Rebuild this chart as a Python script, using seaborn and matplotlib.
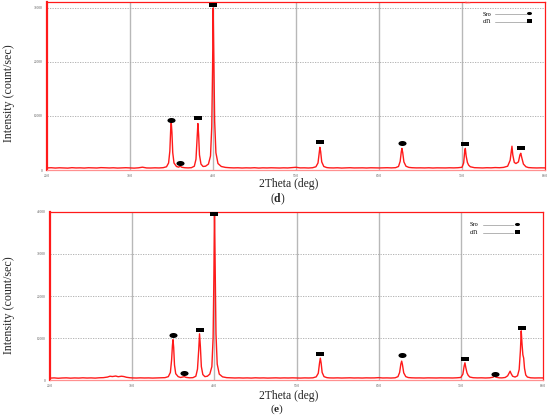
import matplotlib
matplotlib.use("Agg")
import matplotlib.pyplot as plt
from matplotlib.markers import MarkerStyle
from matplotlib.transforms import Affine2D
import seaborn as sns
import pandas as pd

# ---------------- data ----------------
tt_d = [20.0, 20.5, 21.0, 21.5, 22.0, 22.5, 23.0, 23.5, 24.0, 24.5, 25.0, 25.5, 26.0, 26.5,
        27.0, 27.5, 28.0, 28.5, 29.0, 29.5, 30.0, 30.5, 31.0, 31.5, 32.0, 32.5, 33.0, 33.5,
        34.0, 34.4, 34.65, 34.8, 34.9, 34.97, 35.05, 35.15, 35.3, 35.6, 35.85, 36.05, 36.25,
        36.6, 37.0, 37.4, 37.75, 37.95, 38.08, 38.18, 38.27, 38.37, 38.55, 38.8, 39.1, 39.45,
        39.7, 39.85, 39.95, 40.02, 40.1, 40.2, 40.35, 40.6, 41.0, 41.5, 42.0, 42.5, 43.0, 43.5,
        44.0, 44.5, 45.0, 45.5, 46.0, 46.5, 47.0, 47.5, 48.0, 48.5, 49.0, 49.5, 50.0, 50.5,
        51.0, 51.5, 52.0, 52.4, 52.65, 52.8, 52.88, 52.97, 53.1, 53.35, 53.7, 54.0, 54.5,
        55.0, 55.5, 56.0, 56.5, 57.0, 57.5, 58.0, 58.5, 59.0, 59.5, 60.0, 60.5, 61.0, 61.5,
        62.0, 62.35, 62.55, 62.68, 62.76, 62.86, 63.0, 63.25, 63.6, 64.0, 64.5, 65.0, 65.5,
        66.0, 66.5, 67.0, 67.5, 68.0, 68.5, 69.0, 69.5, 70.0, 70.2, 70.33, 70.4, 70.5, 70.65,
        70.8, 71.0, 71.5, 72.0, 72.5, 73.0, 73.5, 74.0, 74.5, 75.0, 75.5, 75.8, 75.95, 76.02,
        76.12, 76.3, 76.5, 76.8, 76.98, 77.08, 77.2, 77.4, 77.7, 78.0, 78.5, 79.0, 79.5, 80.0]
int_d = [380, 420, 360, 410, 390, 350, 430, 380, 400, 360, 420, 390, 370, 440,
         400, 380, 410, 360, 390, 420, 380, 350, 400, 520, 380, 370, 400, 380,
         430, 600, 1300, 3500, 7400, 8800, 7000, 3200, 1300, 650, 520, 700, 500,
         420, 390, 430, 700, 2000, 5800, 8600, 6500, 2800, 1100, 650, 700, 1100,
         2600, 8000, 19000, 30000, 21000, 9000, 3200, 1200, 650, 480, 420, 390, 410, 370,
         400, 380, 420, 360, 400, 380, 410, 390, 370, 400, 380, 430, 500, 390,
         400, 370, 420, 600, 1300, 3300, 4200, 3400, 1500, 650, 450, 400, 380,
         410, 360, 400, 420, 380, 390, 400, 370, 410, 390, 380, 400, 420, 390,
         430, 650, 1600, 3300, 4000, 3200, 1500, 700, 480, 420, 390, 400, 380,
         410, 370, 400, 390, 380, 410, 390, 420, 500, 1300, 3500, 4000, 2600, 1400,
         900, 600, 430, 400, 380, 420, 400, 450, 420, 480, 700, 1800, 3500, 4400,
         2800, 1400, 1200, 1500, 2800, 3100, 2300, 1100, 600, 450, 400, 380, 400, 390]

tt_e = [20.0, 20.5, 21.0, 21.5, 22.0, 22.5, 23.0, 23.5, 24.0, 24.5, 25.0, 25.5, 26.0, 26.5,
        27.0, 27.3, 27.6, 28.0, 28.3, 28.7, 29.0, 29.3, 29.7, 30.0, 30.5, 31.0, 31.5, 32.0,
        32.5, 33.0, 33.5, 34.0, 34.4, 34.65, 34.8, 34.9, 34.97, 35.05, 35.15, 35.3, 35.6,
        35.9, 36.2, 36.35, 36.55, 37.0, 37.4, 37.75, 37.95, 38.1, 38.2, 38.3, 38.42, 38.6,
        38.85, 39.15, 39.45, 39.7, 39.85, 39.95, 40.02, 40.1, 40.2, 40.35, 40.6, 41.0, 41.5,
        42.0, 42.5, 43.0, 43.5, 44.0, 44.5, 45.0, 45.5, 46.0, 46.5, 47.0, 47.5, 48.0, 48.5,
        49.0, 49.5, 50.0, 50.5, 51.0, 51.5, 52.0, 52.4, 52.65, 52.8, 52.9, 53.0, 53.12, 53.35,
        53.7, 54.0, 54.5, 55.0, 55.5, 56.0, 56.5, 57.0, 57.5, 58.0, 58.5, 59.0, 59.5, 60.0,
        60.5, 61.0, 61.5, 62.0, 62.35, 62.55, 62.7, 62.8, 62.9, 63.05, 63.3, 63.6, 64.0, 64.5,
        65.0, 65.5, 66.0, 66.5, 67.0, 67.5, 68.0, 68.5, 69.0, 69.5, 70.0, 70.25, 70.4, 70.5,
        70.6, 70.75, 70.9, 71.1, 71.5, 72.0, 72.5, 73.0, 73.5, 73.9, 74.1, 74.3, 74.7, 75.0,
        75.4, 75.7, 75.9, 76.0, 76.1, 76.3, 76.6, 76.9, 77.1, 77.25, 77.35, 77.45, 77.55,
        77.65, 77.75, 77.9, 78.1, 78.5, 79.0, 79.5, 80.0]
int_e = [450, 500, 420, 480, 510, 440, 490, 460, 520, 470, 500, 450, 530, 560,
         700, 900, 820, 950, 780, 900, 820, 650, 540, 500, 470, 510, 480, 500,
         460, 490, 520, 560, 800, 1800, 4800, 8200, 9600, 7800, 3600, 1500, 800,
         600, 750, 800, 620, 520, 560, 900, 2600, 7200, 11000, 8000, 3200, 1300,
         800, 900, 1400, 3200, 10000, 25000, 40000, 27000, 11000, 3800, 1400, 750, 560,
         520, 480, 510, 470, 500, 460, 520, 480, 500, 460, 490, 510, 470, 500,
         480, 510, 490, 460, 500, 480, 520, 750, 1600, 4000, 5200, 4000, 1800, 800,
         560, 500, 480, 510, 470, 500, 520, 480, 500, 470, 510, 490, 500, 560,
         480, 500, 470, 520, 800, 1800, 3800, 4500, 3600, 1700, 800, 580, 520, 490,
         500, 470, 510, 490, 480, 510, 490, 500, 480, 520, 600, 1400, 3300, 4100,
         3000, 1700, 1100, 700, 540, 500, 520, 480, 520, 650, 900, 650, 520, 500,
         600, 1000, 1700, 2100, 1600, 900, 700, 1000, 2500, 7000, 11700, 8500, 6000,
         5200, 2800, 1200, 700, 520, 480, 500, 490]

# phase markers (2theta, intensity)
sro_d_x = [34.95, 36.05, 62.75]
sro_d_y = [9260, 1300, 5000]
ti_d_x = [38.2, 40.05, 52.85, 70.35, 77.1]
ti_d_y = [9630, 30550, 5190, 4810, 4070]

sro_e_x = [34.96, 36.3, 62.85, 74.1]
sro_e_y = [10700, 1600, 5950, 1500]
ti_e_x = [38.3, 40.02, 52.9, 70.5, 77.4]
ti_e_y = [11900, 39500, 6100, 4900, 12500]

x_ticks = [20, 30, 40, 50, 60, 70, 80]
x_tick_labels = ["20.0", "30.0", "40.0", "50.0", "60.0", "70.0", "80.0"]
y_ticks_d = [0, 10000, 20000, 30000]
y_ticks_e = [0, 10000, 20000, 30000, 40000]
legend_labels = ["Sro", "\u03b1Ti"]

# ---------------- style ----------------
sns.set_style("white")
plt.rcParams["font.family"] = ["Liberation Serif", "DejaVu Serif"]
plt.rcParams["mathtext.fontset"] = "custom"
plt.rcParams["mathtext.rm"] = "Liberation Serif"
plt.rcParams["mathtext.bf"] = "Liberation Serif:bold"

W, H = 550, 418
fig = plt.figure(figsize=(W / 100, H / 100), dpi=100)

ELL = MarkerStyle("o", transform=Affine2D().scale(1.0, 0.62))
RECT = MarkerStyle("s", transform=Affine2D().scale(1.0, 0.68))


def make_axes(l, t, r, b):
    return fig.add_axes([l / W, 1 - b / H, (r - l) / W, (b - t) / H])


RED = "#ff1a1a"


def draw_panel(ax, tt, inten, yt, ymax, sx, sy, tx, ty, box):
    ax.set_xlim(20, 80)
    ax.set_ylim(0, ymax)
    for xv in [30, 40, 50, 60, 70]:
        ax.axvline(xv, color="#b8b8b8", lw=1.0, zorder=0)
    for yv in yt[1:]:
        ax.axhline(yv, color="#a8a8a8", lw=0.6, ls=(0, (1.5, 1.5)), zorder=0)
    df = pd.DataFrame({"tt": tt, "I": inten})
    sns.lineplot(data=df, x="tt", y="I", ax=ax, color=RED, lw=1.0,
                 estimator=None, sort=False, zorder=3)
    sns.scatterplot(x=sx, y=sy, ax=ax, marker=ELL, s=34, color="black",
                    edgecolor="black", linewidth=0, zorder=5)
    sns.scatterplot(x=tx, y=ty, ax=ax, marker=RECT, s=26, color="black",
                    edgecolor="black", linewidth=0, zorder=5)
    ax.set_xticks(x_ticks)
    ax.set_xticklabels(x_tick_labels)
    ax.set_yticks(yt)
    ax.set_yticklabels([str(v) for v in yt])
    ax.tick_params(axis="both", labelsize=2.5, labelcolor="#555555", length=1.5,
                   width=0.4, color="#888888", pad=1.5)
    ax.set_xlabel("")
    ax.set_ylabel("")
    for name, sp in ax.spines.items():
        sp.set_color(RED)
        sp.set_linewidth(0.9)
    ax.spines["left"].set_linewidth(1.6)
    ax.spines["bottom"].set_color("#ff9090")
    l, t, r, b = box

    def af(px, py):
        return ((px - l) / (r - l), (b - py) / (b - t))

    return af


# panel (d)
box_d = (47, 2, 545, 170)
ax1 = make_axes(*box_d)
af1 = draw_panel(ax1, tt_d, int_d, y_ticks_d, 31100, sro_d_x, sro_d_y, ti_d_x, ti_d_y, box_d)
# panel (e)
box_e = (50, 212, 543, 380)
ax2 = make_axes(*box_e)
af2 = draw_panel(ax2, tt_e, int_e, y_ticks_e, 40000, sro_e_x, sro_e_y, ti_e_x, ti_e_y, box_e)


def legend(ax, af, x0, y0, dy, lx0, lx1, mx):
    for i, lab in enumerate(legend_labels):
        y = y0 + i * dy
        ax.text(*af(x0, y), lab, transform=ax.transAxes, fontsize=4.5,
                va="center", ha="left", color="black")
        ax.plot([af(lx0, y)[0], af(lx1, y)[0]], [af(lx0, y)[1]] * 2,
                transform=ax.transAxes, color="#444444", lw=0.45, ls=(0, (1, 0.6)))
        ax.plot([af(mx, y - 1.0)[0]], [af(mx, y - 1.0)[1]], transform=ax.transAxes,
                marker=ELL if i == 0 else RECT, ms=3.6,
                color="black", mew=0)


legend(ax1, af1, 483, 14, 7.5, 495, 527, 529)
legend(ax2, af2, 470, 225, 8, 483, 514, 517)

ax1.text(*af1(465, 3.5), "Cnts", transform=ax1.transAxes, fontsize=2.5,
         color="#ff8080", va="center", ha="left")

# axis titles
fig.text(9 / W, 1 - 93 / H, "Intensity (count/sec)", rotation=90, fontsize=8.6,
         ha="center", va="center")
fig.text(9 / W, 1 - 305 / H, "Intensity (count/sec)", rotation=90, fontsize=8.6,
         ha="center", va="center")
fig.text(289 / W, 1 - 184 / H, "2Theta (deg)", fontsize=8.4, ha="center", va="center")
fig.text(289 / W, 1 - 396 / H, "2Theta (deg)", fontsize=8.4, ha="center", va="center")
fig.text(278 / W, 1 - 199 / H, r"($\mathbf{d}$)", fontsize=8.4, ha="center", va="center")
fig.text(277 / W, 1 - 409 / H, r"($\mathbf{e}$)", fontsize=8.2, ha="center", va="center")

fig.savefig("out.png", dpi=100)
